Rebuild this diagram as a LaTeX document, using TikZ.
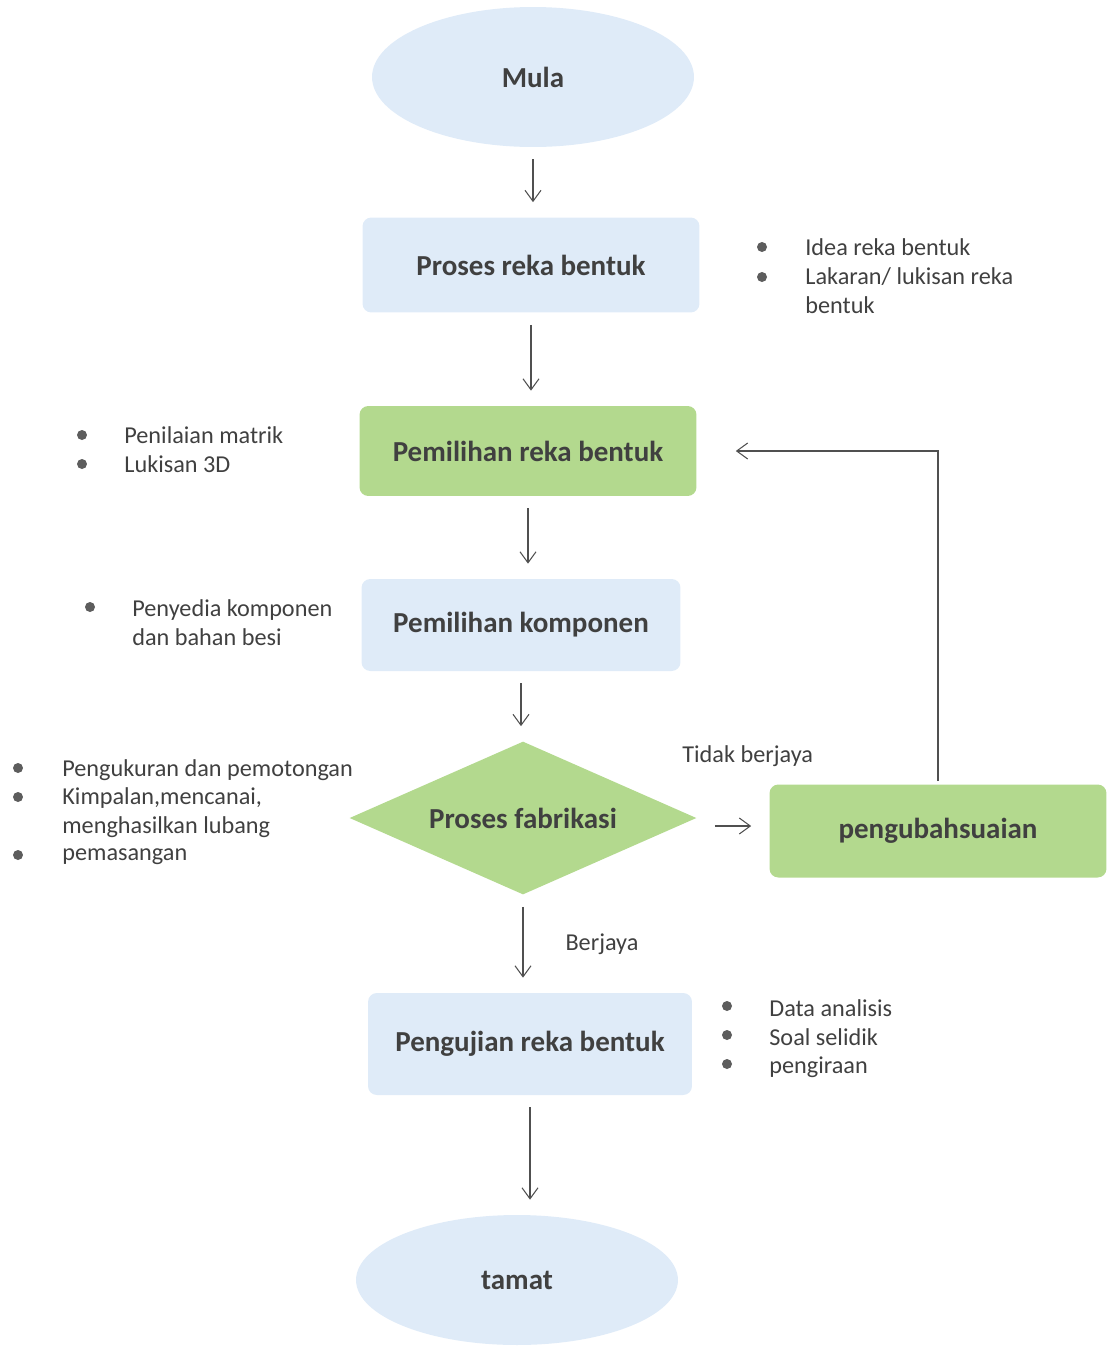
\documentclass[tikz,border=0pt]{standalone}
\usepackage{fontspec}
\setmainfont{Carlito}
\usetikzlibrary{positioning, arrows.meta, shapes.geometric, calc}
\definecolor{boxblue}{HTML}{DFEBF8}
\definecolor{boxgreen}{HTML}{B3D98E}
\definecolor{inkgray}{HTML}{404040}
\definecolor{linegray}{HTML}{505050}

\begin{document}
\begin{tikzpicture}[
    x=0.02cm, y=-0.02cm,
    terminal/.style={ellipse, fill=boxblue, minimum width=6.44cm, minimum height=2.8cm, text=inkgray, font=\fontsize{16.5}{19}\selectfont\bfseries},
    process/.style={rectangle, rounded corners=5pt, fill=boxblue, minimum width=6.74cm, minimum height=1.9cm, text=inkgray, font=\fontsize{16.5}{19}\selectfont\bfseries},
    greenbox/.style={process, fill=boxgreen},
    decision/.style={diamond, shape aspect=2.27, fill=boxgreen, inner sep=0pt, minimum width=6.94cm, minimum height=3.06cm, text=inkgray, font=\fontsize{16.5}{19}\selectfont\bfseries},
    dot/.style={circle, fill=inkgray!85, inner sep=0pt, minimum size=0.2cm},
    note/.style={anchor=west, align=left, inner sep=0pt, text=inkgray, font=\fontsize{13.8}{16.5}\selectfont},
    arrow/.style={-{Straight Barb[length=2.2mm, width=3.2mm]}, linegray, semithick, shorten <=0.24cm, shorten >=0.3cm},
]
\useasboundingbox (0,0) rectangle (1107,1349);

% Main flow
\node[terminal] (mula) at (533,77) {Mula};
\node[process] (proses) at (531,265) {Proses reka bentuk};
\node[greenbox, minimum height=1.8cm] (pilih) at (528,451) {Pemilihan reka bentuk};
\node[process, minimum width=6.38cm, minimum height=1.84cm] (komponen) at (521,625) {Pemilihan komponen};
\node[decision] (fabrikasi) at (523,818) {Proses fabrikasi};
\node[greenbox, minimum height=1.86cm] (ubah) at (938,831) {pengubahsuaian};
\node[process, minimum width=6.48cm, minimum height=2.04cm] (uji) at (530,1044) {Pengujian reka bentuk};
\node[terminal, minimum height=2.6cm] (tamat) at (517,1280) {tamat};

% Notes beside the boxes
\foreach \y [count=\i] in {247,277} \node[dot] (dotA\i) at (762,\y) {};
\node[note] (noteA1) at (805,247) {Idea reka bentuk};
\node[note] (noteA2) at (805,291) {Lakaran/ lukisan reka\\bentuk};

\foreach \y [count=\i] in {435,464} \node[dot] (dotB\i) at (82,\y) {};
\node[note] (noteB1) at (124,435) {Penilaian matrik};
\node[note] (noteB2) at (124,464) {Lukisan 3D};

\node[dot] (dotC1) at (90,607) {};
\node[note] (noteC1) at (132,623) {Penyedia komponen\\dan bahan besi};

\foreach \y [count=\i] in {768,797,855} \node[dot] (dotD\i) at (18,\y) {};
\node[note] (noteD1) at (62,770) {Pengukuran dan pemotongan};
\node[note] (noteD2) at (62,813) {Kimpalan,mencanai,\\menghasilkan lubang};
\node[note] (noteD3) at (62,857) {pemasangan};

\foreach \y [count=\i] in {1006,1035,1064} \node[dot] (dotE\i) at (727,\y) {};
\node[note] (noteE1) at (769,1008) {Data analisis};
\node[note] (noteE2) at (769,1037) {Soal selidik};
\node[note] (noteE3) at (769,1067) {pengiraan};

% Connections
\draw[arrow] (mula.south) -- (mula.south |- proses.north);
\draw[arrow] (proses.south) -- (proses.south |- pilih.north);
\draw[arrow] (pilih.south) -- (pilih.south |- komponen.north);
\draw[arrow] (komponen.south) -- (komponen.south |- fabrikasi.north);
\draw[arrow] (fabrikasi.south) -- node[right=0.84cm, note, anchor=west] (berjaya) {Berjaya} (fabrikasi.south |- uji.north);
\draw[arrow] (uji.south) -- (uji.south |- tamat.north);
\draw[arrow, shorten <=0.36cm, shorten >=0.36cm] ([yshift=-0.16cm]fabrikasi.east) -- ([yshift=-0.16cm]fabrikasi.east -| ubah.west);
\node[note] (tidak) at (682,756) {Tidak berjaya};

% Feedback loop
\draw[arrow, shorten <=0.06cm, shorten >=0.78cm] (ubah.north) |- (pilih.east);

\end{tikzpicture}
\end{document}
